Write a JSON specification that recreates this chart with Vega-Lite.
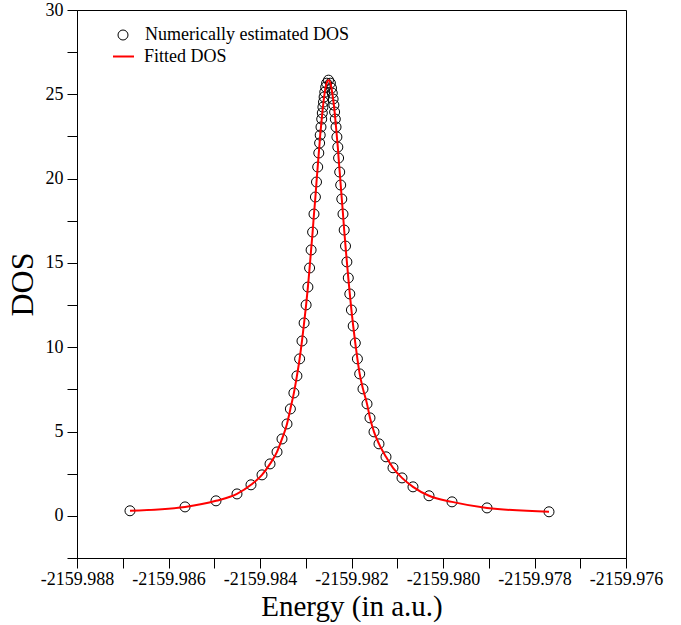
{
  "$schema": "https://vega.github.io/schema/vega-lite/v6.json",
  "width": 549,
  "height": 548,
  "autosize": {"type": "none"},
  "padding": {"left": 77, "top": 10, "right": 55, "bottom": 67},
  "background": "white",
  "config": {
    "view": {"stroke": "black", "strokeWidth": 1},
    "font": "Liberation Serif",
    "axis": {
      "grid": false,
      "domainColor": "black",
      "domainWidth": 1,
      "tickColor": "black",
      "tickWidth": 1,
      "labelColor": "black",
      "titleColor": "black",
      "labelFont": "Liberation Serif",
      "titleFont": "Liberation Serif",
      "titleFontWeight": "normal"
    },
    "legend": {
      "labelFont": "Liberation Serif",
      "labelFontSize": 18,
      "labelColor": "black",
      "labelLimit": 0
    }
  },
  "data": {
    "values": [
      {"E": -2159.986842, "DOS": 0.30},
      {"E": -2159.985639, "DOS": 0.53},
      {"E": -2159.984962, "DOS": 0.89},
      {"E": -2159.984503, "DOS": 1.30},
      {"E": -2159.984197, "DOS": 1.84},
      {"E": -2159.983956, "DOS": 2.43},
      {"E": -2159.983781, "DOS": 3.08},
      {"E": -2159.983628, "DOS": 3.79},
      {"E": -2159.983519, "DOS": 4.56},
      {"E": -2159.983410, "DOS": 5.45},
      {"E": -2159.983336, "DOS": 6.34},
      {"E": -2159.983259, "DOS": 7.29},
      {"E": -2159.983193, "DOS": 8.30},
      {"E": -2159.983134, "DOS": 9.31},
      {"E": -2159.983082, "DOS": 10.37},
      {"E": -2159.983036, "DOS": 11.44},
      {"E": -2159.982992, "DOS": 12.51},
      {"E": -2159.982953, "DOS": 13.57},
      {"E": -2159.982916, "DOS": 14.70},
      {"E": -2159.982883, "DOS": 15.77},
      {"E": -2159.982850, "DOS": 16.83},
      {"E": -2159.982820, "DOS": 17.90},
      {"E": -2159.982789, "DOS": 18.91},
      {"E": -2159.982765, "DOS": 19.80},
      {"E": -2159.982739, "DOS": 20.69},
      {"E": -2159.982715, "DOS": 21.52},
      {"E": -2159.982697, "DOS": 22.11},
      {"E": -2159.982684, "DOS": 22.58},
      {"E": -2159.982667, "DOS": 23.06},
      {"E": -2159.982651, "DOS": 23.53},
      {"E": -2159.982638, "DOS": 23.89},
      {"E": -2159.982625, "DOS": 24.24},
      {"E": -2159.982612, "DOS": 24.54},
      {"E": -2159.982599, "DOS": 24.84},
      {"E": -2159.982584, "DOS": 25.13},
      {"E": -2159.982564, "DOS": 25.43},
      {"E": -2159.982544, "DOS": 25.66},
      {"E": -2159.982503, "DOS": 25.84},
      {"E": -2159.982461, "DOS": 25.66},
      {"E": -2159.982437, "DOS": 25.37},
      {"E": -2159.982420, "DOS": 25.07},
      {"E": -2159.982402, "DOS": 24.72},
      {"E": -2159.982385, "DOS": 24.36},
      {"E": -2159.982369, "DOS": 23.95},
      {"E": -2159.982354, "DOS": 23.53},
      {"E": -2159.982338, "DOS": 23.06},
      {"E": -2159.982319, "DOS": 22.47},
      {"E": -2159.982299, "DOS": 21.87},
      {"E": -2159.982282, "DOS": 21.22},
      {"E": -2159.982258, "DOS": 20.39},
      {"E": -2159.982236, "DOS": 19.62},
      {"E": -2159.982212, "DOS": 18.79},
      {"E": -2159.982186, "DOS": 17.90},
      {"E": -2159.982160, "DOS": 16.95},
      {"E": -2159.982131, "DOS": 16.00},
      {"E": -2159.982101, "DOS": 15.06},
      {"E": -2159.982070, "DOS": 14.11},
      {"E": -2159.982037, "DOS": 13.16},
      {"E": -2159.982002, "DOS": 12.21},
      {"E": -2159.981963, "DOS": 11.26},
      {"E": -2159.981917, "DOS": 10.25},
      {"E": -2159.981871, "DOS": 9.31},
      {"E": -2159.981821, "DOS": 8.42},
      {"E": -2159.981749, "DOS": 7.53},
      {"E": -2159.981661, "DOS": 6.64},
      {"E": -2159.981596, "DOS": 5.81},
      {"E": -2159.981508, "DOS": 4.98},
      {"E": -2159.981399, "DOS": 4.27},
      {"E": -2159.981246, "DOS": 3.50},
      {"E": -2159.981093, "DOS": 2.85},
      {"E": -2159.980896, "DOS": 2.25},
      {"E": -2159.980656, "DOS": 1.72},
      {"E": -2159.980306, "DOS": 1.19},
      {"E": -2159.979803, "DOS": 0.83},
      {"E": -2159.979038, "DOS": 0.47},
      {"E": -2159.977683, "DOS": 0.24}
    ]
  },
  "encoding": {
    "x": {
      "field": "E",
      "type": "quantitative",
      "scale": {"domain": [-2159.988, -2159.976], "nice": false, "zero": false},
      "axis": {
        "title": "Energy (in a.u.)",
        "titleFont": "Liberation Serif",
        "titleFontSize": 29,
        "titlePadding": 4,
        "values": [-2159.988, -2159.987, -2159.986, -2159.985, -2159.984, -2159.983, -2159.982, -2159.981, -2159.980, -2159.979, -2159.978, -2159.977, -2159.976],
        "labelExpr": "round(datum.value*1000) % 2 === 0 ? replace(format(datum.value, '.3f'), '\u2212', '-') : ''",
        "labelFont": "Liberation Serif",
        "labelFontSize": 18,
        "labelPadding": 2,
        "labelOverlap": false,
        "labelFlush": false,
        "labelBound": false,
        "tickSize": 10,
        "encode": {
          "ticks": {"update": {"y2": {"signal": "round(datum.value*1000) % 2 === 0 ? 10 : 6"}}}
        }
      }
    },
    "y": {
      "field": "DOS",
      "type": "quantitative",
      "scale": {"domain": [-2.5, 30], "nice": false, "zero": false},
      "axis": {
        "title": "DOS",
        "titleFont": "Liberation Serif",
        "titleFontSize": 32,
        "titlePadding": 6,
        "values": [-2.5, 0, 2.5, 5, 7.5, 10, 12.5, 15, 17.5, 20, 22.5, 25, 27.5, 30],
        "labelExpr": "datum.value % 5 === 0 ? format(datum.value, 'd') : ''",
        "labelFont": "Liberation Serif",
        "labelFontSize": 18,
        "labelPadding": 4,
        "labelOverlap": false,
        "labelFlush": false,
        "labelBound": false,
        "tickSize": 10,
        "encode": {
          "ticks": {"update": {"x2": {"signal": "datum.value % 5 === 0 ? -10 : -6"}}}
        }
      }
    }
  },
  "layer": [
    {
      "mark": {"type": "point", "filled": false, "size": 100, "strokeWidth": 1, "opacity": 1},
      "encoding": {
        "color": {
          "datum": "Numerically estimated DOS",
          "type": "nominal",
          "scale": {"domain": ["Numerically estimated DOS"], "range": ["black"]},
          "legend": {
            "title": null,
            "orient": "none",
            "legendX": 37,
            "legendY": 16,
            "padding": 0,
            "labelOffset": 13,
            "symbolSize": 100,
            "symbolType": "circle",
            "symbolStrokeWidth": 1,
            "symbolFillColor": "transparent",
            "symbolOpacity": 1
          }
        }
      }
    },
    {
      "mark": {"type": "line", "interpolate": "monotone", "strokeWidth": 2},
      "encoding": {
        "stroke": {
          "datum": "Fitted DOS",
          "type": "nominal",
          "scale": {"domain": ["Fitted DOS"], "range": ["#ff0000"]},
          "legend": {
            "title": null,
            "orient": "none",
            "legendX": 35,
            "legendY": 35,
            "padding": 0,
            "labelOffset": 9,
            "symbolSize": 441,
            "symbolType": "stroke",
            "symbolStrokeWidth": 2,
            "symbolOpacity": 1
          }
        }
      }
    }
  ]
}
